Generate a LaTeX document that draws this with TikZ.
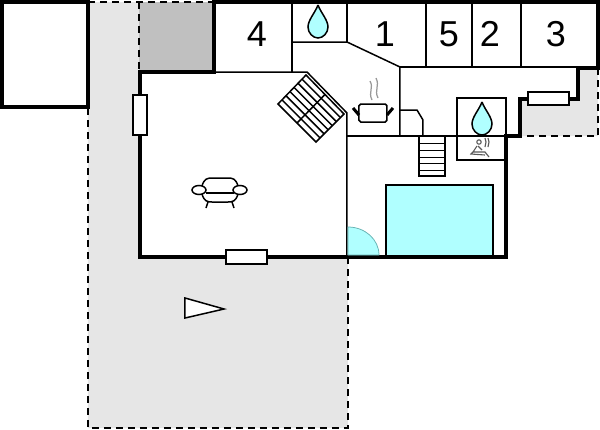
\documentclass[tikz,border=0pt]{standalone}
\usepackage{fontspec}
\setmainfont{Liberation Sans}
\definecolor{terrace}{HTML}{E6E6E6}
\definecolor{garage}{HTML}{C0C0C0}
\definecolor{water}{HTML}{B0FFFF}
\tikzset{
  wall/.style={line width=0.07cm},
  inner wall/.style={line width=0.03cm},
  border/.style={line width=0.03cm, dash pattern=on 0.14cm off 0.1cm},
  window/.style={draw=black, fill=white, line width=0.03cm},
  room/.style={font=\fontsize{20.5}{20.5}\selectfont},
  drop/.style={draw=black, fill=water, line width=0.03cm},
}
\begin{document}
\begin{tikzpicture}[x=0.02cm,y=-0.02cm]
      \useasboundingbox (0,0) rectangle (600,430);
      % terrace and garage
      \fill[terrace] (88,2) -- (139,2) -- (139,257) -- (348,257) -- (348,428) -- (88,428) -- cycle;
      \fill[terrace] (578,68) -- (598,68) -- (598,136) -- (520,136) -- (520,99) -- (578,99) -- cycle;
      \fill[garage]  (139,2) rectangle (214,72);
      \fill[water]   (386,185) rectangle (493,255);
      % dashed borders
      \draw[border] (88,108) -- (88,428) -- (348,428) -- (348,257);
      \draw[border] (88,2) -- (214,2);
      \draw[border] (139,2) -- (139,72);
      \draw[border] (598,68) -- (598,136) -- (520,136);
      % inner walls
      \draw[inner wall] (292,2) -- (292,72);
      \draw[inner wall] (214,72) -- (307,72) -- (347,113) -- (347,257);
      \draw[inner wall] (292,42) -- (347,42) -- (400,67) -- (400,136);
      \draw[inner wall] (347,2) -- (347,42);
      \draw[inner wall] (400,67) -- (578,67);
      \draw[inner wall] (426,2) -- (426,67);
      \draw[inner wall] (472,2) -- (472,67);
      \draw[inner wall] (521,2) -- (521,67);
      \draw[inner wall] (347,136) -- (506,136);
      \draw[inner wall] (400,110) -- (417,110) -- (423,120) -- (423,136);
      \draw[inner wall] (457,98) rectangle (506,136);
      \draw[inner wall] (457,136) rectangle (506,160);
      \draw[inner wall] (386,255) -- (386,185) -- (493,185) -- (493,255);
      % stairs down
      \draw[inner wall] (419,136) rectangle (445,176);
      \foreach \y in {143,150,157,163,170}
        \draw[line width=0.02cm] (419,\y) -- (445,\y);
      % outer walls
      \draw[wall] (214,2) -- (600,2);
      \draw[wall] (598,0) -- (598,68) -- (578,68) -- (578,99) -- (520,99) -- (520,136) -- (506,136) -- (506,257) -- (140,257) -- (140,72) -- (214,72) -- (214,0);
      \draw[wall] (2,2) rectangle (88,107);
      % windows
      \draw[window] (133,95) rectangle (147,135);
      \draw[window] (226,250) rectangle (267,264);
      \draw[window] (528,92) rectangle (569,105);
      % door
      \draw[fill=water, draw=teal!60, line width=0.015cm] (348,255) -- (348,227) arc[start angle=90, end angle=0, x radius=31, y radius=-28] -- cycle;
      % stairs up
      \begin{scope}[shift={(278,104)}, line width=0.03cm]
        \draw (0,0) -- (28,-29) -- (66,10) -- (38,38) -- cycle;
        \draw (47,-9.5) -- (19,19);
        \foreach \t in {1,...,6}
          \draw ({\t*28/7},{-\t*29/7}) -- ({\t*28/7+38},{-\t*29/7+38});
      \end{scope}
      % water drops
      \foreach \x/\y/\name in {318/5/dropa, 482/102/dropb}
        \draw[drop] (\x,\y) .. controls (\x-3,\y+8) and (\x-10,\y+15) .. (\x-10,\y+22)
          .. controls (\x-10,\y+28) and (\x-5,\y+33) .. (\x,\y+33)
          .. controls (\x+5,\y+33) and (\x+10,\y+28) .. (\x+10,\y+22)
          .. controls (\x+10,\y+15) and (\x+3,\y+8) .. (\x,\y);
      % cooking pot
      \draw[inner wall, rounded corners=1pt] (359,104) -- (359,122) -- (387,122) -- (387,104) -- cycle;
      \draw[line width=0.06cm] (353,108) -- (359,115);
      \draw[line width=0.06cm] (393,108) -- (387,115);
      \draw[gray!80, line width=0.025cm] (372,100) .. controls (368,92) and (374,88) .. (370,81);
      \draw[gray!80, line width=0.025cm] (378,98) .. controls (374,90) and (380,86) .. (376,78);
      % sauna
      \begin{scope}[gray!70!black, line width=0.022cm]
        \draw (479,142) circle[radius=2.2];
        \draw (477,146) -- (473,152) -- (485,152) -- (489,157);
        \draw (478,146) -- (482,150);
        \draw (473,152) -- (471,154) -- (485,155);
        \draw (485,138) -- (486,142) -- (485,147);
        \draw (488,138) -- (489,142) -- (488,147);
      \end{scope}
      % armchair
      \begin{scope}[line width=0.03cm]
        \draw (202,186) .. controls (204,179) and (207,178) .. (212,178) -- (228,178) .. controls (233,178) and (236,179) .. (238,186);
        \draw (206,193) -- (234,193);
        \draw (202,194) .. controls (204,201) and (207,202) .. (212,202) -- (228,202) .. controls (233,202) and (236,201) .. (238,194);
        \draw[fill=white] (199,190) ellipse[x radius=7, y radius=4.5];
        \draw[fill=white] (240,190) ellipse[x radius=7, y radius=4.5];
        \draw (208,202) -- (206,208);
        \draw (232,202) -- (234,208);
      \end{scope}
      % viewpoint
      \draw[fill=white, line width=0.03cm] (185,298) -- (224,309) -- (185,318) -- cycle;
      % room numbers
      \node[room] (room4) at (257,34) {4};
      \node[room] (room1) at (385,34) {1};
      \node[room] (room5) at (449,34) {5};
      \node[room] (room2) at (490,34) {2};
      \node[room] (room3) at (556,34) {3};
    \end{tikzpicture}
\end{document}
